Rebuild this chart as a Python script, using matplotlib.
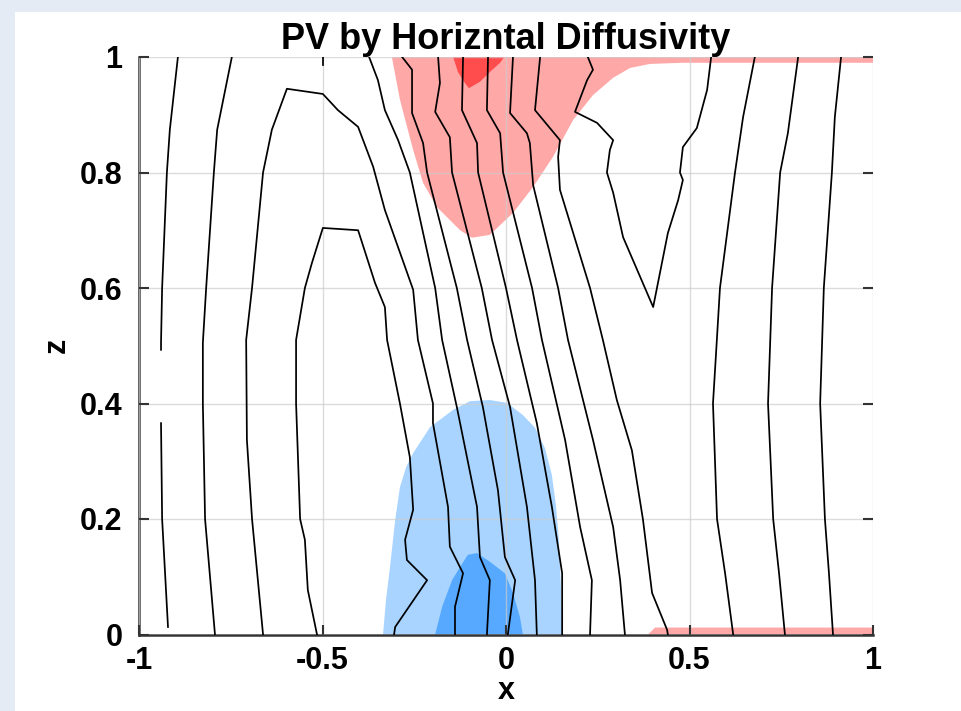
import matplotlib.pyplot as plt
from matplotlib.patches import Rectangle

# ---- black contour lines (x, z) ----
l1a_x = [-0.894, -0.916, -0.924, -0.937, -0.940, -0.940]
l1a_z = [1.0, 0.874, 0.800, 0.600, 0.505, 0.493]
l1b_x = [-0.940, -0.937, -0.921]
l1b_z = [0.366, 0.200, 0.013]

l2_x = [-0.747, -0.787, -0.796, -0.817, -0.826, -0.826, -0.820, -0.793]
l2_z = [1.0, 0.874, 0.800, 0.600, 0.505, 0.400, 0.200, 0.0]

outer_arch_x = [-0.662, -0.692, -0.706, -0.708, -0.692, -0.662, -0.638, -0.597, -0.499, -0.458,
                -0.403, -0.362, -0.330, -0.253, -0.240, -0.199, -0.199, -0.158, -0.153, -0.117,
                -0.139, -0.139]
outer_arch_z = [0.0, 0.200, 0.337, 0.510, 0.600, 0.800, 0.874, 0.945, 0.936, 0.908,
                0.879, 0.810, 0.735, 0.597, 0.510, 0.400, 0.366, 0.221, 0.152, 0.106,
                0.048, 0.0]

inner_arch_x = [-0.515, -0.540, -0.548, -0.561, -0.572, -0.572, -0.548, -0.529, -0.499, -0.403,
                -0.357, -0.330, -0.324, -0.289, -0.262, -0.253, -0.275, -0.270, -0.215, -0.302,
                -0.305]
inner_arch_z = [0.0, 0.077, 0.164, 0.200, 0.400, 0.510, 0.600, 0.643, 0.704, 0.700,
                0.609, 0.567, 0.510, 0.400, 0.307, 0.216, 0.164, 0.129, 0.094, 0.013,
                0.0]

d1_x = [-0.373, -0.349, -0.330, -0.294, -0.262, -0.193, -0.174, -0.134, -0.079, -0.071, -0.044, -0.052]
d1_z = [1.0, 0.960, 0.908, 0.856, 0.800, 0.600, 0.510, 0.394, 0.221, 0.134, 0.094, 0.0]
d2_x = [-0.283, -0.256, -0.256, -0.226, -0.215, -0.134, -0.106, -0.063, -0.022, -0.003, 0.025, 0.005]
d2_z = [1.0, 0.978, 0.903, 0.851, 0.800, 0.600, 0.510, 0.394, 0.250, 0.134, 0.094, 0.0]
d3_x = [-0.185, -0.180, -0.193, -0.153, -0.147, -0.066, -0.038, 0.011, 0.057, 0.079, 0.084]
d3_z = [1.0, 0.955, 0.905, 0.861, 0.800, 0.600, 0.510, 0.394, 0.221, 0.094, 0.0]
d4_x = [-0.117, -0.120, -0.079, -0.076, 0.0, 0.030, 0.084, 0.125, 0.153, 0.153]
d4_z = [1.0, 0.908, 0.851, 0.800, 0.600, 0.510, 0.366, 0.221, 0.106, 0.0]
d5_x = [-0.049, -0.052, -0.016, -0.008, 0.071, 0.098, 0.161, 0.202, 0.234, 0.229]
d5_z = [1.0, 0.908, 0.868, 0.800, 0.600, 0.510, 0.337, 0.186, 0.094, 0.0]
d6_x = [0.019, 0.011, 0.057, 0.065, 0.074, 0.142, 0.169, 0.237, 0.292, 0.311, 0.324]
d6_z = [1.0, 0.903, 0.868, 0.851, 0.778, 0.600, 0.510, 0.337, 0.186, 0.094, 0.0]
d7_x = [0.093, 0.079, 0.147, 0.142, 0.147, 0.229, 0.264, 0.302, 0.343, 0.373, 0.398, 0.439, 0.441]
d7_z = [1.0, 0.908, 0.856, 0.827, 0.770, 0.600, 0.510, 0.406, 0.319, 0.200, 0.072, 0.008, 0.0]

v_x = [0.223, 0.237, 0.221, 0.188, 0.248, 0.292, 0.283, 0.275, 0.292, 0.319, 0.401,
       0.441, 0.469, 0.482, 0.474, 0.482, 0.520, 0.548, 0.559]
v_z = [1.0, 0.978, 0.960, 0.905, 0.886, 0.856, 0.839, 0.800, 0.765, 0.688, 0.567,
       0.695, 0.752, 0.787, 0.800, 0.844, 0.877, 0.943, 1.0]

r1_x = [0.678, 0.646, 0.624, 0.583, 0.575, 0.564, 0.575, 0.597, 0.619]
r1_z = [1.0, 0.896, 0.800, 0.600, 0.515, 0.400, 0.200, 0.106, 0.0]
r2_x = [0.796, 0.768, 0.747, 0.725, 0.714, 0.728, 0.744, 0.760]
r2_z = [1.0, 0.868, 0.800, 0.600, 0.400, 0.200, 0.106, 0.0]
r3_x = [0.913, 0.896, 0.888, 0.866, 0.856, 0.869, 0.880, 0.891]
r3_z = [1.0, 0.896, 0.800, 0.600, 0.400, 0.200, 0.106, 0.0]

short_x = [-0.499, -0.499]
short_z = [1.0, 0.986]

contour_lines = [(l1a_x, l1a_z), (l1b_x, l1b_z), (l2_x, l2_z),
                 (outer_arch_x, outer_arch_z), (inner_arch_x, inner_arch_z),
                 (d1_x, d1_z), (d2_x, d2_z), (d3_x, d3_z), (d4_x, d4_z),
                 (d5_x, d5_z), (d6_x, d6_z), (d7_x, d7_z), (v_x, v_z),
                 (r1_x, r1_z), (r2_x, r2_z), (r3_x, r3_z), (short_x, short_z)]

# ---- PV filled regions (outlines) ----
pv_pos1_x = [-0.311, -0.289, -0.253, -0.226, -0.188, -0.125, -0.093, -0.044, 0.019, 0.074,
             0.128, 0.183, 0.237, 0.292, 0.338, 0.392, 0.482, 1.0, 1.0]
pv_pos1_z = [1.0, 0.926, 0.839, 0.782, 0.740, 0.700, 0.687, 0.692, 0.730, 0.775,
             0.827, 0.891, 0.934, 0.964, 0.981, 0.988, 0.990, 0.990, 1.0]
pv_pos2_x = [-0.144, -0.131, -0.112, -0.101, -0.071, -0.044, -0.016, -0.005]
pv_pos2_z = [1.0, 0.974, 0.955, 0.946, 0.957, 0.974, 0.990, 1.0]
pv_bot_x = [0.387, 0.406, 1.0, 1.0]
pv_bot_z = [0.0, 0.012, 0.012, 0.0]

pv_neg1_x = [-0.335, -0.327, -0.316, -0.302, -0.289, -0.272, -0.253, -0.207, -0.144, -0.098,
             -0.044, 0.003, 0.046, 0.079, 0.106, 0.125, 0.136, 0.144, 0.150, 0.153]
pv_neg1_z = [0.0, 0.060, 0.117, 0.198, 0.255, 0.290, 0.314, 0.359, 0.389, 0.404,
             0.406, 0.401, 0.380, 0.358, 0.323, 0.276, 0.224, 0.164, 0.077, 0.0]
pv_neg2_x = [-0.193, -0.174, -0.147, -0.125, -0.104, -0.079, -0.044, -0.003, 0.019, 0.038, 0.046]
pv_neg2_z = [0.0, 0.048, 0.094, 0.117, 0.138, 0.141, 0.126, 0.106, 0.072, 0.030, 0.0]

x_ticks = [-1, -0.5, 0, 0.5, 1]
x_ticklabels = ['-1', '-0.5', '0', '0.5', '1']
z_ticks = [0, 0.2, 0.4, 0.6, 0.8, 1]
z_ticklabels = ['0', '0.2', '0.4', '0.6', '0.8', '1']

plt.rcParams['font.family'] = ['Liberation Sans', 'DejaVu Sans']

fig = plt.figure(figsize=(9.61, 7.11), dpi=100, facecolor='#e5ebf4')
# white figure panel sitting on the light page
fig.patches.append(Rectangle((15 / 961, 0), 1, (711 - 12) / 711, transform=fig.transFigure,
                             facecolor='white', edgecolor='none', zorder=-10))

ax = fig.add_axes([139 / 961, (711 - 634.5) / 711, (873 - 139) / 961, (634.5 - 57) / 711])
ax.set_facecolor('white')

ax.fill(pv_pos1_x, pv_pos1_z, color='#ffa8a8', lw=0, zorder=1)
ax.fill(pv_pos2_x, pv_pos2_z, color='#ff4d4d', lw=0, zorder=1.1)
ax.fill(pv_bot_x, pv_bot_z, color='#ffa8a8', lw=0, zorder=1)
ax.fill(pv_neg1_x, pv_neg1_z, color='#a8d4ff', lw=0, zorder=1)
ax.fill(pv_neg2_x, pv_neg2_z, color='#56a9ff', lw=0, zorder=1.1)

for xs, zs in contour_lines:
    ax.plot(xs, zs, color='black', lw=1.25, zorder=3)

ax.set_xlim(-1, 1)
ax.set_ylim(0, 1)
ax.set_xticks(x_ticks)
ax.set_xticklabels(x_ticklabels)
ax.set_yticks(z_ticks)
ax.set_yticklabels(z_ticklabels)

ax.set_axisbelow(False)
ax.grid(True, color='#cccccc', lw=1.0, alpha=0.7)

for side in ['top', 'right']:
    ax.spines[side].set_visible(False)
for side in ['left', 'bottom']:
    ax.spines[side].set_color('#333333')
    ax.spines[side].set_linewidth(1.8)

ax.tick_params(axis='both', direction='in', length=7, width=1.5, color='#333333',
               labelsize=22, right=True)
ax.tick_params(axis='x', pad=8)
ax.tick_params(axis='y', pad=12)
for lab in ax.get_xticklabels() + ax.get_yticklabels():
    lab.set_fontweight('bold')

ax.set_title('PV by Horizntal Diffusivity', fontsize=26, fontweight='bold', pad=5)
ax.set_xlabel('x', fontsize=22, fontweight='bold', labelpad=0)
ax.set_ylabel('z', fontsize=22, fontweight='bold', labelpad=6)

fig.savefig('out.png', dpi=100, facecolor=fig.get_facecolor())
